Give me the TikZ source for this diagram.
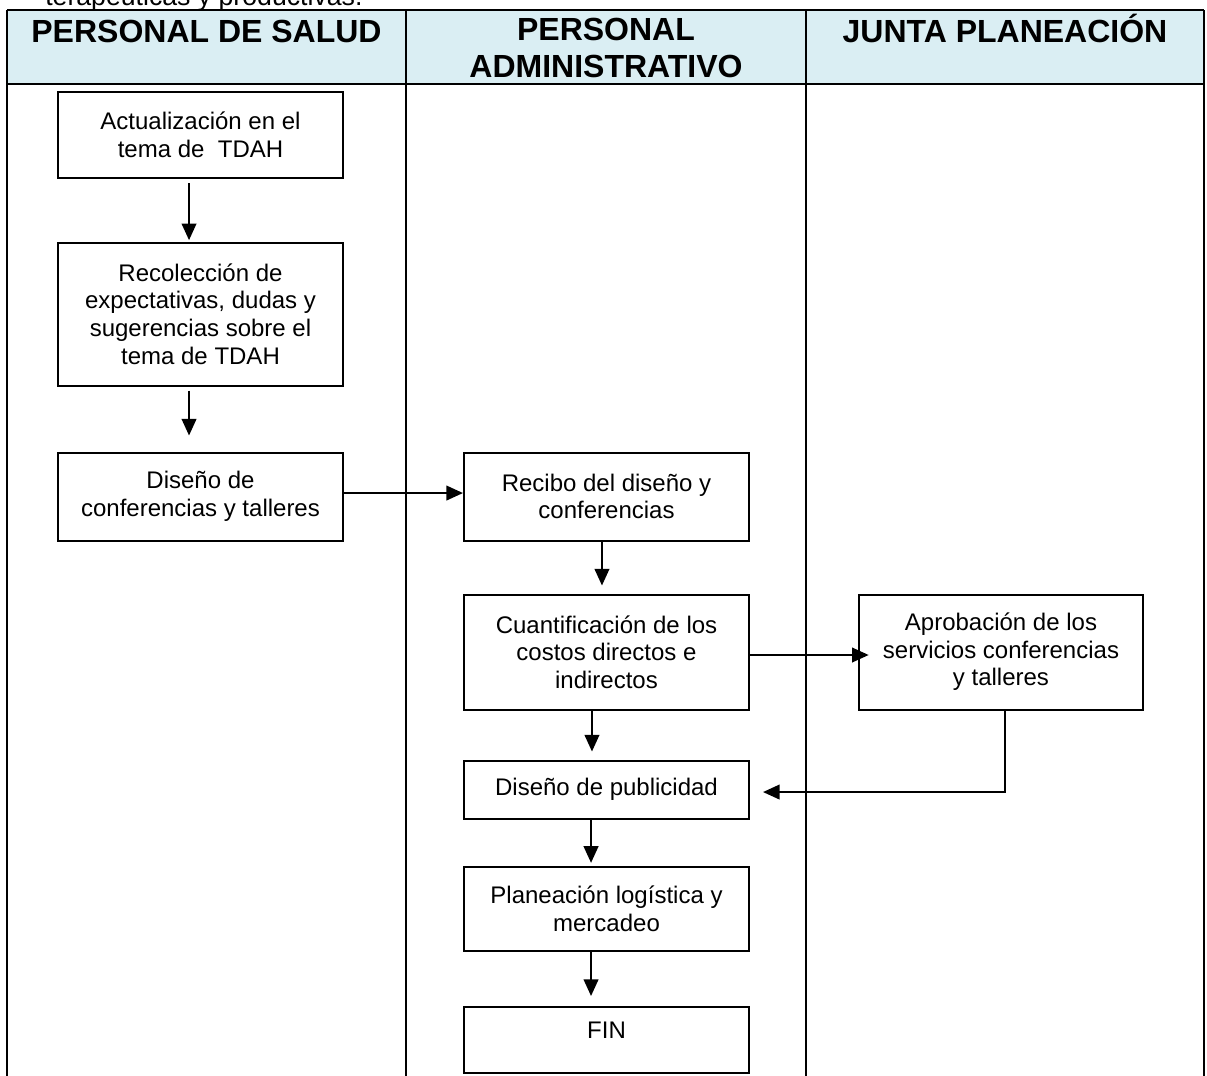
\documentclass[tikz,border=0pt]{standalone}
\usepackage{fontspec}
\setmainfont{Liberation Sans}
\usetikzlibrary{arrows.meta}
\definecolor{hdr}{HTML}{DAEEF3}
\begin{document}
\begin{tikzpicture}[x=0.75pt,y=-0.75pt,
  lane/.style={line width=1.5pt},
  stepbox/.style={draw, line width=1.5pt, minimum width=213.75pt, align=center, inner sep=0pt, font=\fontsize{18}{20.7}\selectfont},
  arr/.style={line width=1.5pt, -{Triangle[length=12.5pt,width=11pt]}},
  hdrtext/.style={font=\fontsize{24}{27.5}\selectfont\bfseries, align=center, inner sep=0pt}]
\useasboundingbox (0,0) rectangle (1207,1075);
\fill[white] (0,0) rectangle (1207,1075);
% cut-off line of text at the top
\node[anchor=base west, inner sep=0pt, font=\fontsize{20}{23}\selectfont] (toptext) at (45,5) {terapéuticas y productivas.};
% header
\fill[hdr] (7,10) rectangle (1204,84);
\draw[lane] (7,10) -- (1204,10);
\draw[lane] (7,84) -- (1204,84);
\draw[lane] (7,10) -- (7,1080);
\draw[lane] (406,10) -- (406,1080);
\draw[lane] (806,10) -- (806,1080);
\draw[lane] (1204,10) -- (1204,1080);
\node[hdrtext, anchor=base] (h1) at (206.5,42) {PERSONAL DE SALUD};
\node[hdrtext] (h2) at (606,48) {PERSONAL\\ADMINISTRATIVO};
\node[hdrtext, anchor=base] (h3) at (1005,42) {JUNTA PLANEACIÓN};
% boxes
\node[stepbox, minimum height=64.5pt] (b1) at (200.5,135) {Actualización en el\\tema de \ TDAH};
\node[stepbox, minimum height=107.25pt] (b2) at (200.5,314) {Recolección de\\expectativas, dudas y\\sugerencias sobre el\\tema de TDAH};
\node[stepbox, minimum height=66pt] (b3) at (200.5,496.5) {Diseño de\\conferencias y talleres};
\node[stepbox, minimum height=66pt] (b4) at (606.5,496.5) {Recibo del diseño y\\conferencias};
\node[stepbox, minimum height=86.25pt] (b5) at (606.5,652) {Cuantificación de los\\costos directos e\\indirectos};
\node[stepbox, minimum height=86.25pt, minimum width=213pt] (b6) at (1001,652) {Aprobación de los\\servicios conferencias\\y talleres};
\node[stepbox, minimum height=43.5pt] (b7) at (606.5,789.5) {Diseño de publicidad};
\node[stepbox, minimum height=63pt] (b8) at (606.5,908.5) {Planeación logística y\\mercadeo};
\node[stepbox, minimum height=49.5pt, text height=23.7pt, text depth=25.8pt] (b9) at (606.5,1040) {FIN};
% connectors
\draw[arr, shorten <=3pt, shorten >=1pt] ([xshift=-8.6pt]b1.south) -- ([xshift=-8.6pt]b2.north);
\draw[arr, shorten <=3pt, shorten >=12pt] ([xshift=-8.6pt]b2.south) -- ([xshift=-8.6pt]b3.north);
\draw[arr] ([yshift=2.6pt]b3.east) -- ([yshift=2.6pt]b4.west);
\draw[arr, shorten >=6pt] ([xshift=-3.4pt]b4.south) -- ([xshift=-3.4pt]b5.north);
\draw[arr, shorten >=6pt] ([xshift=-10.9pt]b5.south) -- ([xshift=-10.9pt]b7.north);
\draw[arr, shorten >=-8pt] ([yshift=-2.25pt]b5.east) -- ([yshift=-2.25pt]b6.west);
\draw[arr, shorten >=9.75pt] ([xshift=3pt]b6.south) |- ([yshift=-1.9pt]b7.east);
\draw[arr, shorten >=2pt] ([xshift=-11.6pt]b7.south) -- ([xshift=-11.6pt]b8.north);
\draw[arr, shorten >=7.5pt] ([xshift=-11.6pt]b8.south) -- ([xshift=-11.6pt]b9.north);
\end{tikzpicture}
\end{document}
